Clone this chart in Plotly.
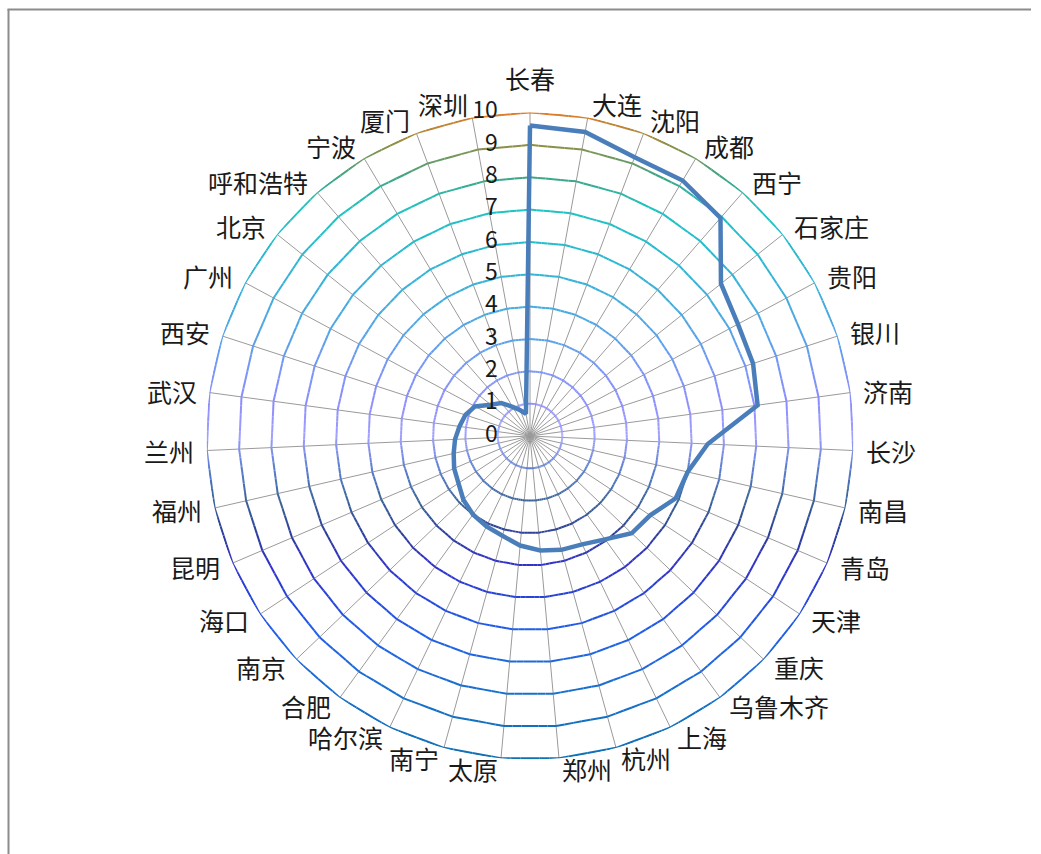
import math
import plotly.graph_objects as go

cities = ["长春", "大连", "沈阳", "成都", "西宁", "石家庄", "贵阳", "银川", "济南", "长沙",
          "南昌", "青岛", "天津", "重庆", "乌鲁木齐", "上海", "杭州", "郑州", "太原", "南宁",
          "哈尔滨", "合肥", "南京", "海口", "昆明", "福州", "兰州", "武汉", "西安", "广州",
          "北京", "呼和浩特", "宁波", "厦门", "深圳"]
values = [9.6, 9.55, 9.2, 9.2, 8.95, 7.55, 7.3, 7.25, 7.1, 5.5,
          5.0, 4.9, 4.45, 4.35, 3.95, 3.72, 3.65, 3.55, 3.4, 3.2,
          3.1, 3.0, 2.85, 2.65, 2.55, 2.42, 2.32, 2.2, 2.1, 1.93,
          1.55, 1.35, 1.05, 0.85, 0.7]
radial_ticks = list(range(0, 11))

N = len(cities)
angles = [i * 360.0 / N for i in range(N)]
RMAX = radial_ticks[-1]

# vertical gradient of the gridline colours (by height in data units)
stop_y = [10, 9, 8, 7, 6, 5, 4, 3, 2, 1, 0, -1, -2, -3, -4, -5, -6, -7, -8, -9, -10]
stop_c = ["#E07B28", "#8F8F45", "#3FA585", "#1FC3C3", "#22BDCB", "#33B4D6", "#45ABDF",
          "#56A1EA", "#7A94F6", "#8C8CFF", "#A0A0FF", "#5A7ED0", "#3A6498", "#2C3F9A",
          "#3232C8", "#2545DA", "#1F5EEA", "#1F68DC", "#1670CC", "#1270BE", "#1170B2"]


def hex2rgb(h):
    h = h.lstrip("#")
    return [int(h[i:i + 2], 16) for i in (0, 2, 4)]


def color_at(y):
    y = max(-10, min(10, y))
    for j in range(len(stop_y) - 1):
        ya, yb = stop_y[j], stop_y[j + 1]
        if yb <= y <= ya:
            t = (ya - y) / (ya - yb)
            ca, cb = hex2rgb(stop_c[j]), hex2rgb(stop_c[j + 1])
            c = [round(ca[m] + (cb[m] - ca[m]) * t) for m in range(3)]
            return "rgb(%d,%d,%d)" % tuple(c)
    return stop_c[-1]


def to_polar(x, y):
    r = math.hypot(x, y)
    th = math.degrees(math.atan2(x, y)) % 360
    return r, th


bins = {}
nsub = 6
for k in radial_ticks[1:]:
    for i in range(N):
        a0 = math.radians(angles[i])
        a1 = math.radians(angles[(i + 1) % N])
        ax, ay = k * math.sin(a0), k * math.cos(a0)
        bx, by = k * math.sin(a1), k * math.cos(a1)
        for s in range(nsub):
            t0, t1 = s / nsub, (s + 1) / nsub
            p0 = (ax + (bx - ax) * t0, ay + (by - ay) * t0)
            p1 = (ax + (bx - ax) * t1, ay + (by - ay) * t1)
            ym = (p0[1] + p1[1]) / 2
            b = round(ym * 10)
            lst = bins.setdefault(b, ([], []))
            for p in (p0, p1):
                r, th = to_polar(*p)
                lst[0].append(r)
                lst[1].append(th)
            lst[0].append(None)
            lst[1].append(None)

fig = go.Figure()
for b, (rr, tt) in sorted(bins.items()):
    fig.add_trace(go.Scatterpolar(
        r=rr, theta=tt, mode="lines",
        line=dict(color=color_at(b / 10.0), width=2),
        hoverinfo="skip", showlegend=False))

fig.add_trace(go.Scatterpolar(
    r=values + [values[0]], theta=angles + [angles[0]],
    mode="lines", line=dict(color="#4A7EBB", width=4.5),
    showlegend=False, name="城市"))

# radial tick labels, to the left of the top spoke
fig.add_trace(go.Scatterpolar(
    r=radial_ticks, theta=[0] * len(radial_ticks),
    mode="markers+text", text=[str(v) for v in radial_ticks],
    textposition="middle left",
    textfont=dict(size=23, color="#1a1a1a", family="Noto Sans CJK SC"),
    marker=dict(size=50, color="rgba(0,0,0,0)"),
    hoverinfo="skip", showlegend=False, cliponaxis=False))

# invisible cartesian overlay (same square as the polar area) for label annotations
fig.add_trace(go.Scatter(x=[None], y=[None], mode="markers", showlegend=False,
                         hoverinfo="skip"))

annotations = []
for name, a in zip(cities, angles):
    s, c = math.sin(math.radians(a)), math.cos(math.radians(a))
    if abs(s) < 1e-9:
        xanchor, xshift, yshift = "center", 0, 34
    else:
        xanchor = "left" if s > 0 else "right"
        xshift = 11 * s
        yshift = 14 * c if c > 0 else 10.5 * c
    annotations.append(dict(
        x=RMAX * s, y=RMAX * c, xref="x", yref="y", text=name, showarrow=False,
        xanchor=xanchor, yanchor="middle", xshift=xshift, yshift=yshift,
        font=dict(size=25, color="#1a1a1a", family="Noto Sans CJK SC")))

W, H = 1041, 854
cx, cy, R = 530, 436, 323.5
dom_x = [(cx - R) / W, (cx + R) / W]
dom_y = [(H - cy - R) / H, (H - cy + R) / H]

fig.update_layout(
    width=W, height=H,
    margin=dict(l=0, r=0, t=0, b=0),
    paper_bgcolor="white", plot_bgcolor="rgba(0,0,0,0)",
    font=dict(family="Noto Sans CJK SC", color="#1a1a1a"),
    xaxis=dict(domain=dom_x, range=[-RMAX, RMAX], visible=False, fixedrange=True),
    yaxis=dict(domain=dom_y, range=[-RMAX, RMAX], visible=False, fixedrange=True),
    polar=dict(
        domain=dict(x=dom_x, y=dom_y),
        bgcolor="white",
        angularaxis=dict(
            type="linear", thetaunit="degrees", direction="clockwise", rotation=90,
            tickmode="array", tickvals=angles, ticktext=cities, showticklabels=False,
            showline=False, showgrid=True, gridcolor="#9a9a9a", gridwidth=1, ticks=""),
        radialaxis=dict(
            range=[0, RMAX], tickmode="array", tickvals=radial_ticks,
            angle=90, showticklabels=False,
            showline=False, showgrid=False, ticks=""),
    ),
    annotations=annotations,
    shapes=[
        dict(type="line", xref="paper", yref="paper", x0=8.5 / W, x1=8.5 / W,
             y0=0, y1=(H - 9) / H, line=dict(color="#8c8c8c", width=2)),
        dict(type="line", xref="paper", yref="paper", x0=7.5 / W, x1=1031 / W,
             y0=(H - 9.5) / H, y1=(H - 9.5) / H, line=dict(color="#8c8c8c", width=2)),
    ],
)

fig.write_html("out.html")
